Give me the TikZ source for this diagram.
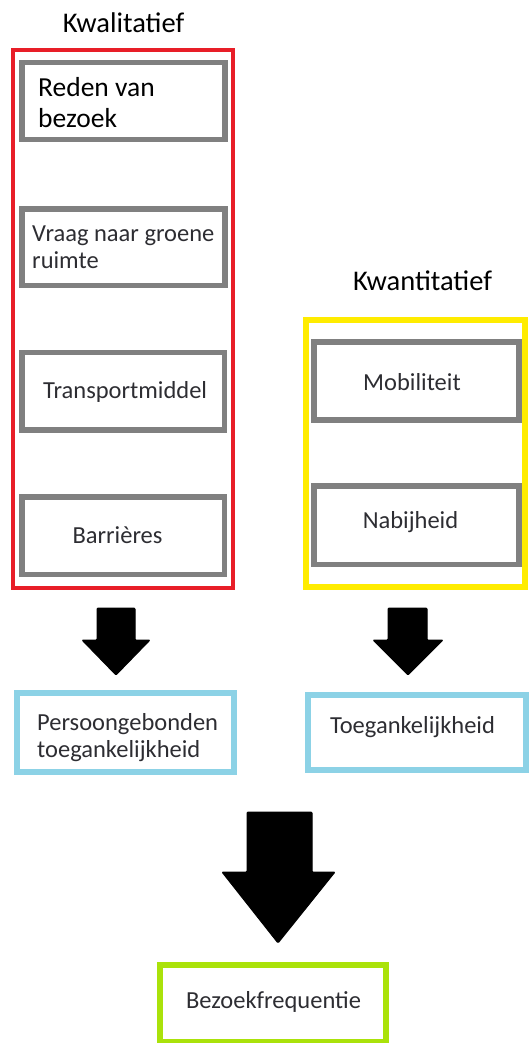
\documentclass[tikz,border=0pt]{standalone}
\usepackage{fontspec}
\setmainfont{Carlito}
\definecolor{redbox}{RGB}{232,30,40}
\definecolor{graybox}{RGB}{128,128,128}
\definecolor{yellowbox}{RGB}{255,236,0}
\definecolor{bluebox}{RGB}{140,210,230}
\definecolor{greenbox}{RGB}{170,226,10}
\definecolor{txt}{RGB}{45,45,50}
\begin{document}
\begin{tikzpicture}[x=1pt,y=-1pt,
  group/.style={draw, line width=4pt},
  item/.style={draw=graybox, line width=5.5pt},
  outcome/.style={draw=bluebox, line width=6pt},
  lbl/.style={inner sep=0pt, text=txt, font=\fontsize{24.5}{27}\selectfont},
  title/.style={inner sep=0pt, text=black, font=\fontsize{28.5}{32}\selectfont},
  blockarrow/.style={fill=black, draw=black, line width=1pt, line join=round, rounded corners=1pt}]
\useasboundingbox (0,0) rectangle (529,1043);
% titles
\node[title, anchor=base] (tq) at (123.5,33) {Kwalitatief};
\node[title, anchor=base] (tk) at (422.5,290) {Kwantitatief};
% group frames
\draw[group, draw=redbox] (13,50.5) rectangle (233,587.5);
\draw[group, draw=yellowbox, line width=6pt] (306,320) rectangle (525,587);
% qualitative items
\draw[item] (22,62.5) rectangle (225,139.5);
\node[lbl, anchor=base west, align=left, text=black, font=\fontsize{27.5}{31}\selectfont] (r) at (38,128) {Reden van\\bezoek};
\draw[item] (22,209) rectangle (225,285.5);
\node[lbl, anchor=base west, align=left] (v) at (32,268) {Vraag naar groene\\ruimte};
\draw[item] (22,352.5) rectangle (224.5,430);
\node[lbl, anchor=base west] (t) at (43,398) {Transportmiddel};
\draw[item] (22,497) rectangle (224.5,574.5);
\node[lbl, anchor=base] (b) at (117.5,543) {Barrières};
% quantitative items
\draw[item] (314,342) rectangle (519,420);
\node[lbl, anchor=base] (m) at (412,390) {Mobiliteit};
\draw[item] (314,486) rectangle (519,564.5);
\node[lbl, anchor=base] (n) at (410.5,528) {Nabijheid};
% outcomes
\draw[outcome] (17,693) rectangle (233.5,772);
\node[lbl, anchor=base west, align=left] (p) at (37,757) {Persoongebonden\\toegankelijkheid};
\draw[outcome] (308,694.5) rectangle (525.5,770);
\node[lbl, anchor=base] (tg) at (412.5,733) {Toegankelijkheid};
\draw[outcome, draw=greenbox] (160,965) rectangle (386,1042);
\node[lbl, anchor=base] (bf) at (273.5,1008) {Bezoekfrequentie};
% block arrows
\draw[blockarrow] (97,608) -- (135,608) -- (135,640) -- (150,640) -- (116,675) -- (82,640) -- (97,640) -- cycle;
\draw[blockarrow] (388,608) -- (427,608) -- (427,640) -- (443,640) -- (408,675) -- (373,640) -- (388,640) -- cycle;
\draw[blockarrow] (247,812) -- (312,812) -- (312,872) -- (335,872) -- (278,943) -- (222,872) -- (247,872) -- cycle;
\end{tikzpicture}
\end{document}
